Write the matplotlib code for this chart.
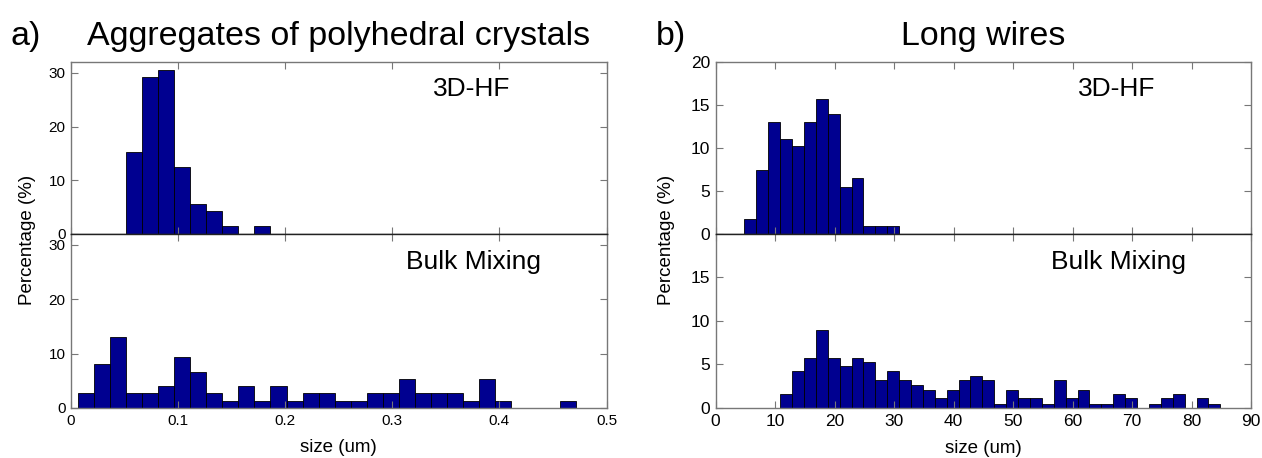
import numpy as np
import matplotlib
matplotlib.use('Agg')
import matplotlib.pyplot as plt
from matplotlib.ticker import FuncFormatter

plt.rcParams['font.family'] = ['Liberation Sans', 'DejaVu Sans']

# histogram bins (left edge of first bin, bin width)
a_start, a_width = 0.0062, 0.015
b_start, b_width = 4.85, 2.0

# a) aggregates of polyhedral crystals, percentage per bin
a_hf = [0, 0, 0, 15.3, 29.2, 30.6, 12.5, 5.6, 4.2, 1.4, 0, 1.4]
a_bulk = [2.7, 8.0, 13.0, 2.7, 2.7, 4.0, 9.3, 6.6, 2.7, 1.3, 4.0, 1.3, 4.0, 1.3, 2.7, 2.7,
          1.3, 1.3, 2.7, 2.7, 5.3, 2.7, 2.7, 2.7, 1.3, 5.3, 1.3, 0, 0, 0, 1.3]

# b) long wires, percentage per bin
b_hf = [1.8, 7.4, 13.0, 11.1, 10.2, 13.0, 15.7, 13.9, 5.5, 6.5, 0.9, 0.9, 0.9]
b_bulk = [0, 0, 0, 1.6, 4.2, 5.8, 9.0, 5.8, 4.8, 5.8, 5.3, 3.2, 4.2, 3.2, 2.6, 2.1, 1.1, 2.1,
          3.2, 3.7, 3.2, 0.5, 2.1, 1.1, 1.1, 0.5, 3.2, 1.1, 2.1, 0.5, 0.5, 1.6, 1.1, 0, 0.5,
          1.1, 1.6, 0, 1.1, 0.5]

bar_color = '#000090'
spine_gray = '#777777'

fig = plt.figure(figsize=(12.62, 4.58), dpi=100)


def draw_hist(ax, start, width, vals):
    vals = np.array(vals, dtype=float)
    lefts = start + width * np.arange(len(vals))
    keep = vals > 0
    ax.bar(lefts[keep], vals[keep], width=width, align='edge',
           color=bar_color, edgecolor='black', linewidth=0.6)


def style(ax, top, size):
    for s in ax.spines.values():
        s.set_color(spine_gray)
        s.set_linewidth(1.0)
    if top:
        ax.spines['bottom'].set_color('#222222')
    else:
        ax.spines['top'].set_color('#222222')
    ax.tick_params(direction='in', top=True, right=True, length=5,
                   color=spine_gray, labelsize=size, pad=4)


fmt = FuncFormatter(lambda v, p: ('%g' % v))

panels = [
    (0.0563, a_start, a_width, a_hf, a_bulk, (0, 0.5), np.arange(0, 0.51, 0.1),
     (0, 32), [0, 10, 20, 30], [0, 10, 20, 30], 'a)', 'Aggregates of polyhedral crystals',
     0.0080, 11, 0.0345),
    (0.5670, b_start, b_width, b_hf, b_bulk, (0, 90), np.arange(0, 91, 10),
     (0, 20), [0, 5, 10, 15, 20], [0, 5, 10, 15], 'b)', 'Long wires',
     0.5200, 12.5, 0.0385),
]

for (left, start, width, hf, bulk, xlim, xticks, ylim, yt_top, yt_bot,
     letter, title, letter_x, tsize, ylab_off) in panels:
    w = 0.4243
    ax_top = fig.add_axes([left, 0.4891, w, 0.3755])
    ax_bot = fig.add_axes([left, 0.1092, w, 0.3799])

    draw_hist(ax_top, start, width, hf)
    draw_hist(ax_bot, start, width, bulk)

    for ax, yt, top in ((ax_top, yt_top, True), (ax_bot, yt_bot, False)):
        ax.set_xlim(*xlim)
        ax.set_ylim(*ylim)
        ax.set_xticks(xticks)
        ax.set_yticks(yt)
        ax.xaxis.set_major_formatter(fmt)
        style(ax, top, tsize)
    ax_top.tick_params(labelbottom=False)

    ax_top.text(0.749, 0.845, '3D-HF', transform=ax_top.transAxes,
                fontsize=19, ha='center', va='center')
    ax_bot.text(0.752, 0.84, 'Bulk Mixing', transform=ax_bot.transAxes,
                fontsize=19, ha='center', va='center')

    ax_bot.set_xlabel('size (um)', fontsize=13.5, labelpad=8)
    fig.text(left - ylab_off, 0.476, 'Percentage (%)',
             rotation=90, fontsize=13.5, ha='center', va='center')

    fig.text(letter_x, 0.92, letter, fontsize=24.5, ha='left', va='center')
    fig.text(left + w / 2, 0.92, title, fontsize=24.5, ha='center', va='center')

fig.savefig('out.png', dpi=100)
